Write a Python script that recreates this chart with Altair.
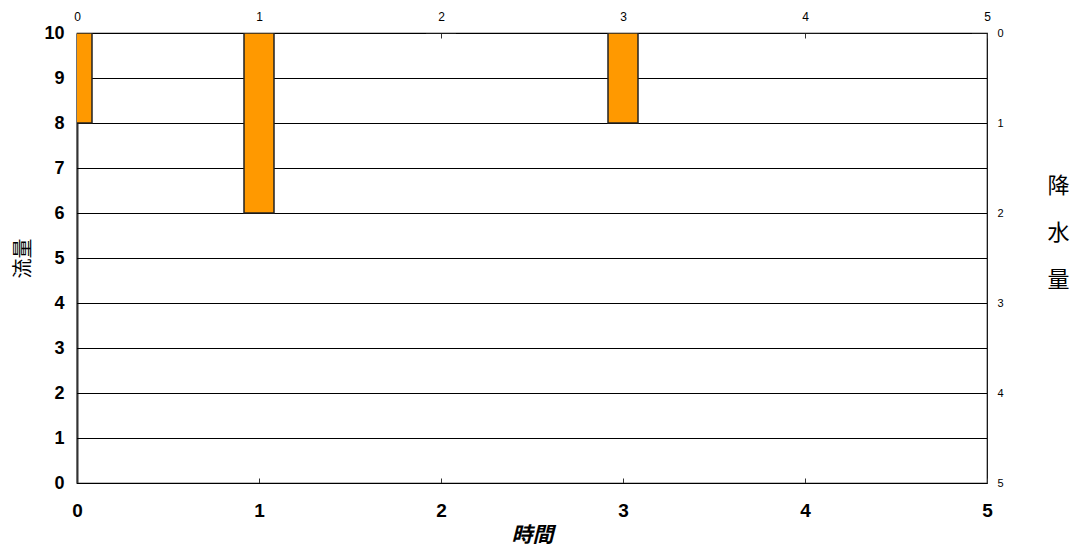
import altair as alt
import pandas as pd

# data
time = [0, 1, 2, 3, 4, 5]
rain = [1, 2, 0, 1, 0, 0]
flow_levels = [0, 1, 2, 3, 4, 5, 6, 7, 8, 9, 10]
rain_ticks = [0, 1, 2, 3, 4, 5]

W, H = 910, 450
LAT = "Liberation Sans"
CJK = "Noto Sans CJK JP"

rain_df = pd.DataFrame({"t": time, "rain": rain})
grid_df = pd.DataFrame({"level": flow_levels})
time_df = pd.DataFrame({"t": time})

grid = alt.Chart(grid_df).mark_rule(color="#000000", strokeWidth=1, yOffset=0.5).encode(
    y=alt.Y("level:Q",
            scale=alt.Scale(domain=[0, 10], nice=False, padding=0),
            axis=alt.Axis(orient="left", values=flow_levels, title="流量",
                          ticks=False, domain=True, domainColor="#333333", domainWidth=2,
                          labelFlush=False,
                          labelFont=LAT, labelFontSize=18, labelFontWeight="bold",
                          labelColor="#000000", labelPadding=13,
                          titleFont=CJK, titleFontSize=20, titleFontWeight="normal",
                          titleColor="#000000", titlePadding=10, grid=False))
)

bottom = alt.Chart(time_df).mark_point(opacity=0).encode(
    x=alt.X("t:Q",
            scale=alt.Scale(domain=[0, 5], nice=False, padding=0),
            axis=alt.Axis(orient="bottom", values=time, title="時間", offset=-5,
                          ticks=True, tickSize=5, tickColor="#333333", domain=False,
                          labelFlush=False,
                          labelFont=LAT, labelFontSize=19, labelFontWeight="bold",
                          labelColor="#000000", labelPadding=18,
                          titleFont=CJK, titleFontSize=21, titleFontWeight="bold",
                          titleFontStyle="italic", titleColor="#000000", titlePadding=4,
                          grid=False))
)

bars = alt.Chart(rain_df).mark_bar(
    size=30, color="#FF9900", stroke="#222222", strokeWidth=1.5, clip=True, orient="vertical"
).encode(
    x=alt.X("t:Q",
            scale=alt.Scale(domain=[0, 5], nice=False, padding=0),
            axis=alt.Axis(orient="top", values=time, title=None, offset=-5,
                          ticks=True, tickSize=5, tickColor="#333333", domain=False,
                          labelFlush=False,
                          labelFont=LAT, labelFontSize=12, labelColor="#000000",
                          labelPadding=10, grid=False)),
    y=alt.Y("rain:Q",
            scale=alt.Scale(domain=[0, 5], reverse=True, nice=False, padding=0),
            axis=alt.Axis(orient="right", values=rain_ticks,
                          title=["降", "水", "量"], titleAngle=0,
                          titleAlign="center", titleBaseline="middle",
                          titleX=71, titleY=152, titleLineHeight=47,
                          titleFont=CJK, titleFontSize=22, titleFontWeight="normal",
                          titleColor="#000000",
                          ticks=False, domain=False, labelFlush=False,
                          labelFont=LAT, labelFontSize=11, labelColor="#000000",
                          labelPadding=10, grid=False)),
)

chart = alt.layer(grid, bottom, bars).resolve_scale(
    x="independent", y="independent"
).resolve_axis(
    x="independent", y="independent"
).properties(
    width=W, height=H,
    autosize=alt.AutoSizeParams(type="none"),
    padding={"left": 69, "top": 25, "right": 83, "bottom": 62},
).configure_view(stroke="#000000", strokeWidth=1.2)

chart.save("out.html", embed_options={"renderer": "svg", "actions": False})
